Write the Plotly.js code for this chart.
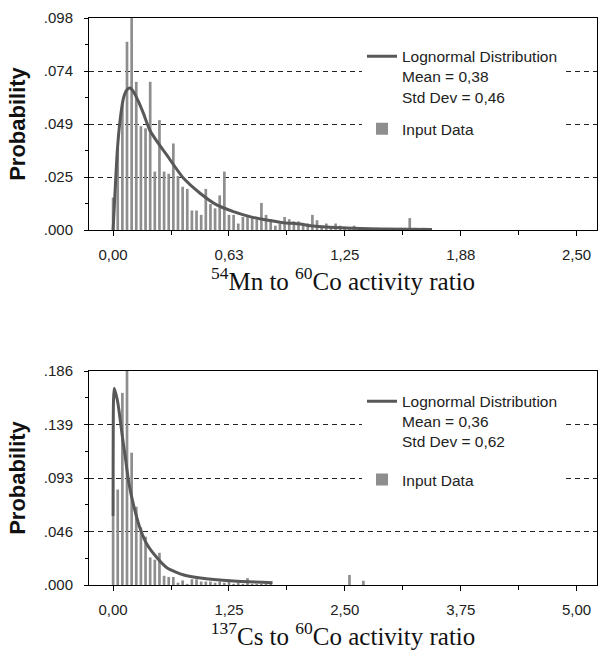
<!DOCTYPE html>
<html>
<head>
<meta charset="utf-8">
<script src="https://cdn.plot.ly/plotly-3.0.1.min.js"></script>
<style>html,body{margin:0;padding:0;background:#fff;}#chart{width:599px;height:659px;}</style>
</head>
<body>
<div id="chart"></div>
<script>
// ---------- Data ----------
// Top panel: 54Mn / 60Co, histogram bins of width 0.025 starting at 0
var mnBinStart = 0;
var mnBinWidth = 0.025;
var mnProb = [0.015, 0.038, 0.058, 0.087, 0.098, 0.0685, 0.048, 0.047, 0.0685, 0.027,
              0.0508, 0.027, 0.026, 0.040, 0.025, 0.020, 0.019, 0.009, 0.009, 0.007,
              0.019, 0.012, 0.010, 0.016, 0.027, 0.007, 0.007, 0.003, 0.006, 0.006,
              0.006, 0.005, 0.0125, 0.007, 0.005, 0.002, 0.003, 0.006, 0.005, 0.004,
              0.004, 0.003, 0.003, 0.007, 0.0045, 0.002, 0.003, 0.0015, 0.003, 0.002,
              0.0015, 0.001, 0.002, 0.001, 0.001, 0.0005, 0.001, 0.001, 0.0005, 0.001,
              0.001, 0.0005, 0.001, 0.001, 0.0055, 0.001, 0.0005, 0.001, 0.0005];
var mnFitX = [0.0, 0.011, 0.023, 0.038, 0.056, 0.074, 0.092, 0.110, 0.137, 0.163,
              0.199, 0.244, 0.289, 0.379, 0.469, 0.559, 0.649, 0.738, 0.828, 0.918,
              1.008, 1.08, 1.26, 1.44, 1.72];
var mnFitY = [0.0, 0.0185, 0.037, 0.051, 0.061, 0.0647, 0.0656, 0.0639, 0.0593, 0.054,
              0.046, 0.040, 0.0347, 0.024, 0.017, 0.0116, 0.0085, 0.0062, 0.0046, 0.0034,
              0.0028, 0.0018, 0.0009, 0.0005, 0.0002];
var mnName = "Lognormal Distribution<br>Mean = 0,38<br>Std Dev = 0,46";

// Bottom panel: 137Cs / 60Co, histogram bins of width 0.05 starting at 0
var csBinStart = 0;
var csBinWidth = 0.05;
var csProb = [0.06, 0.083, 0.167, 0.186, 0.115, 0.068, 0.05, 0.042, 0.024, 0.022,
              0.028, 0.008, 0.007, 0.007, 0.002, 0.004, 0.001, 0.005, 0.005, 0.003,
              0.003, 0.003, 0.002, 0.003, 0.002, 0.003, 0.001, 0.002, 0.001, 0.006,
              0.001, 0.001, 0.001, 0.001, 0.001, 0, 0, 0, 0, 0,
              0, 0, 0, 0, 0, 0, 0, 0, 0, 0,
              0, 0.0087, 0, 0, 0.0037];
var csFitX = [0.0, 0.004, 0.012, 0.045, 0.063, 0.10, 0.135, 0.17, 0.225, 0.296,
              0.368, 0.476, 0.584, 0.763, 0.943, 1.30, 1.72];
var csFitY = [0.06, 0.159, 0.171, 0.161, 0.152, 0.129, 0.109, 0.0886, 0.068, 0.048,
              0.035, 0.0235, 0.0148, 0.0087, 0.006, 0.0035, 0.002];
var csName = "Lognormal Distribution<br>Mean = 0,36<br>Std Dev = 0,62";

// Axis ticks
var mnXTicks = [0, 0.625, 1.25, 1.875, 2.5];
var mnXLabels = ["0,00", "0,63", "1,25", "1,88", "2,50"];
var mnYTicks = [0, 0.0245, 0.049, 0.0735, 0.098];
var mnYLabels = [".000", ".025", ".049", ".074", ".098"];
var csXTicks = [0, 1.25, 2.5, 3.75, 5];
var csXLabels = ["0,00", "1,25", "2,50", "3,75", "5,00"];
var csYTicks = [0, 0.0465, 0.093, 0.1395, 0.186];
var csYLabels = [".000", ".046", ".093", ".139", ".186"];

// ---------- Styling ----------
var barColor = "#8e8e8e";
var lineColor = "#585858";
var tickFont = {family: "Liberation Sans, Arial, sans-serif", size: 15, color: "#222"};
var legFont = {family: "Liberation Sans, Arial, sans-serif", size: 15.5, color: "#222"};
var yTitleFont = {family: "Liberation Sans, Arial, sans-serif", size: 22, color: "#111"};
var xTitleFont = {family: "Liberation Serif, Times New Roman, serif", size: 25, color: "#111"};

var traces = [
  {type: "scatter", mode: "lines", x: mnFitX, y: mnFitY, xaxis: "x", yaxis: "y",
   name: mnName, legendgroup: "a", legend: "legend",
   line: {color: lineColor, width: 3, shape: "spline", smoothing: 0.6}},
  {type: "bar", x0: mnBinStart, dx: mnBinWidth, y: mnProb, xaxis: "x", yaxis: "y",
   name: "Input Data", legendgroup: "b", legend: "legend",
   marker: {color: barColor, line: {width: 0}}},
  {type: "scatter", mode: "lines", x: csFitX, y: csFitY, xaxis: "x2", yaxis: "y2",
   name: csName, legendgroup: "c", legend: "legend2",
   line: {color: lineColor, width: 3, shape: "spline", smoothing: 0.6}},
  {type: "bar", x0: csBinStart, dx: csBinWidth, y: csProb, xaxis: "x2", yaxis: "y2",
   name: "Input Data", legendgroup: "d", legend: "legend2",
   marker: {color: barColor, line: {width: 0}}}
];

function xAxis(tv, tt, range, minorStep, title, anchor) {
  return {
    anchor: anchor, domain: [0, 1], range: range,
    tickmode: "array", tickvals: tv, ticktext: tt,
    ticks: "outside", ticklen: 5, tickcolor: "#000", tickwidth: 1,
    minor: {tickmode: "linear", tick0: 0, dtick: minorStep, ticks: "outside", ticklen: 4, tickcolor: "#000", showgrid: false},
    showline: true, linecolor: "#000", linewidth: 1, mirror: true,
    showgrid: false, zeroline: false,
    tickfont: tickFont, ticklabelstandoff: 6,
    title: {text: title, font: xTitleFont, standoff: 0}
  };
}
function yAxis(tv, tt, range, minorStep, domain, anchor) {
  return {
    anchor: anchor, domain: domain, range: range,
    tickmode: "array", tickvals: tv, ticktext: tt,
    ticks: "outside", ticklen: 4, tickcolor: "#000", tickwidth: 1,
    minor: {tickmode: "linear", tick0: 0, dtick: minorStep, ticks: "outside", ticklen: 3, tickcolor: "#000", showgrid: false},
    showline: true, linecolor: "#000", linewidth: 1, mirror: true,
    showgrid: true, gridcolor: "#222", gridwidth: 1, griddash: "5px,4px",
    zeroline: false,
    tickfont: tickFont, ticklabelstandoff: 8,
    title: {text: "<b>Probability</b>", font: yTitleFont, standoff: 12}
  };
}

var layout = {
  width: 599, height: 659,
  margin: {l: 89, r: 2, t: 18, b: 74},
  paper_bgcolor: "#fff", plot_bgcolor: "#fff",
  bargap: 0.42,
  showlegend: true,
  xaxis: xAxis(mnXTicks, mnXLabels, [-0.13, 2.61], 0.3125, "<sup>54</sup>Mn to <sup>60</sup>Co activity ratio", "y"),
  yaxis: yAxis(mnYTicks, mnYLabels, [0, 0.098], 0.01225, [0.6261, 1], "x"),
  xaxis2: xAxis(csXTicks, csXLabels, [-0.26, 5.22], 0.625, "<sup>137</sup>Cs to <sup>60</sup>Co activity ratio", "y2"),
  yaxis2: yAxis(csYTicks, csYLabels, [0, 0.186], 0.02325, [0, 0.3774], "x2"),
  legend: {x: 0.5374, y: 0.9617, xanchor: "left", yanchor: "top", bgcolor: "#fff",
           borderwidth: 0, font: legFont, valign: "top", traceorder: "grouped", tracegroupgap: 9},
  legend2: {x: 0.5374, y: 0.3535, xanchor: "left", yanchor: "top", bgcolor: "#fff",
            borderwidth: 0, font: legFont, valign: "top", traceorder: "grouped", tracegroupgap: 15}
};

Plotly.newPlot("chart", traces, layout, {displayModeBar: false, staticPlot: true});
</script>
</body>
</html>
